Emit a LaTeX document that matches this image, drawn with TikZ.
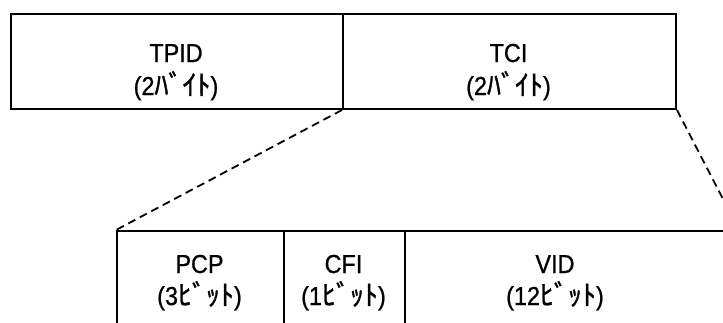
\documentclass[tikz,border=0pt]{standalone}
\usepackage{fontspec}
\setmainfont[FakeStretch=0.9,FakeBold=0.8]{Liberation Sans}
\newfontfamily\jp[FakeBold=1.2]{Noto Sans CJK JP}
\newcommand{\kt}[1]{{\jp\fontsize{28}{30}\selectfont #1}}
\begin{document}
\begin{tikzpicture}[x=1pt,y=-1pt,
  box/.style={draw,line width=2pt,rectangle,inner sep=0pt,anchor=north west},
  lbl/.style={anchor=base,inner sep=0pt,font=\fontsize{26}{30}\selectfont},
  zoomline/.style={line width=1.8pt,dash pattern=on 8pt off 5pt}]
\useasboundingbox (0,0) rectangle (723,322);
\clip (0,0) rectangle (723,322);
\node[box,minimum width=332pt,minimum height=95pt] (tpid) at (10,13) {};
\node[box,minimum width=333pt,minimum height=95pt] (tci) at (342,13) {};
\node[box,minimum width=167pt,minimum height=120pt] (pcp) at (116,230) {};
\node[box,minimum width=121pt,minimum height=120pt] (cfi) at (283,230) {};
\node[box,minimum width=333pt,minimum height=120pt] (vid) at (404,230) {};
\node[lbl] (t1) at (176,62) {TPID};
\node[lbl] (t2) at (176,95) {(2\kt{ﾊﾞｲﾄ})};
\node[lbl] (t3) at (508.5,62) {TCI};
\node[lbl] (t4) at (508.5,95) {(2\kt{ﾊﾞｲﾄ})};
\node[lbl] (t5) at (199.5,273) {PCP};
\node[lbl] (t6) at (199.5,305) {(3\kt{ﾋﾞｯﾄ})};
\node[lbl] (t7) at (343.5,273) {CFI};
\node[lbl] (t8) at (343.5,305) {(1\kt{ﾋﾞｯﾄ})};
\node[lbl] (t9) at (555,273) {VID};
\node[lbl] (t10) at (555,305) {(12\kt{ﾋﾞｯﾄ})};
\draw[zoomline] (tci.south west) -- (pcp.north west);
\draw[zoomline] (tci.south east) -- (vid.north east);
\end{tikzpicture}
\end{document}
